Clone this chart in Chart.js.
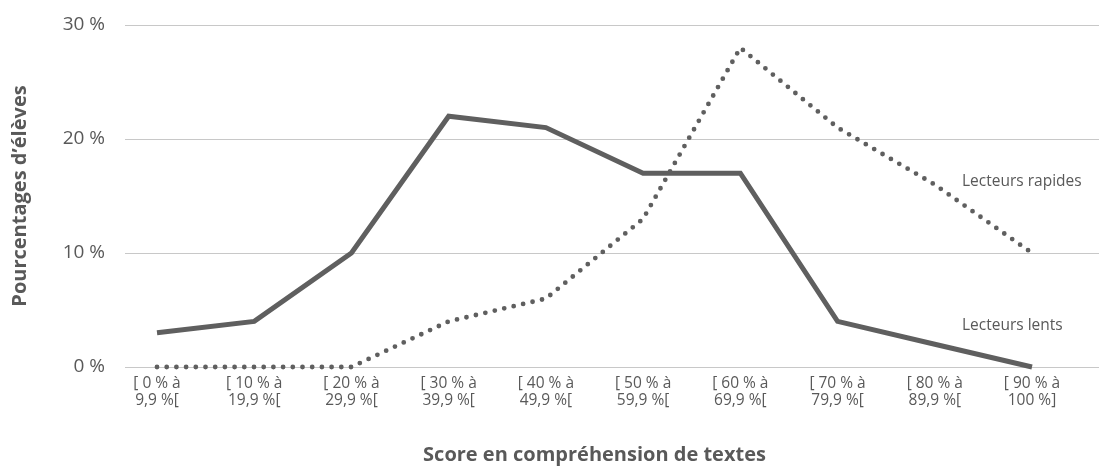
<!DOCTYPE html>
<html>
<head>
<meta charset="utf-8">
<script src="https://cdn.jsdelivr.net/npm/chart.js@4/dist/chart.umd.min.js"></script>
<style>
  html, body { margin: 0; padding: 0; background: #fff; }
  #wrap { width: 1099px; height: 467px; position: relative; }
</style>
</head>
<body>
<div id="wrap"><canvas id="chart"></canvas></div>
<script>
// categories (score bands), two lines each
var categories = [
    ['[ 0 % à', '9,9 %['],
    ['[ 10 % à', '19,9 %['],
    ['[ 20 % à', '29,9 %['],
    ['[ 30 % à', '39,9 %['],
    ['[ 40 % à', '49,9 %['],
    ['[ 50 % à', '59,9 %['],
    ['[ 60 % à', '69,9 %['],
    ['[ 70 % à', '79,9 %['],
    ['[ 80 % à', '89,9 %['],
    ['[ 90 % à', '100 %]']
];

// percentages of pupils
var lents = [3, 4, 10, 22, 21, 17, 17, 4, 2, 0];
var rapides = [0, 0, 0, 4, 6, 13, 28, 21, 16, 10];

// y ticks
var yTicks = [0, 10, 20, 30];

var grey = '#5f5f5f';
var textGrey = '#595959';
var font = "'Open Sans', 'Noto Sans', sans-serif";

// horizontal grid lines, wider than the plotted lines (like the original)
var gridPlugin = {
    id: 'wideGrid',
    beforeDatasetsDraw: function (chart) {
        var ctx = chart.ctx;
        var y = chart.scales.y;
        var area = chart.chartArea;
        ctx.save();
        ctx.strokeStyle = '#c8c8c8';
        ctx.lineWidth = 1;
        yTicks.forEach(function (t) {
            var py = Math.round(y.getPixelForValue(t)) + 0.5;
            ctx.beginPath();
            ctx.moveTo(area.left - 32, py);
            ctx.lineTo(chart.width, py);
            ctx.stroke();
        });
        ctx.restore();
    }
};

// series names written next to the lines
var labelPlugin = {
    id: 'lineLabels',
    afterDatasetsDraw: function (chart) {
        var ctx = chart.ctx;
        var x = chart.scales.x;
        var y = chart.scales.y;
        var px = x.getPixelForValue(9) - 70;
        ctx.save();
        ctx.fillStyle = textGrey;
        ctx.font = '15.5px ' + font;
        ctx.textAlign = 'left';
        ctx.textBaseline = 'middle';
        ctx.fillText('Lecteurs rapides', px, y.getPixelForValue(16.3));
        ctx.fillText('Lecteurs lents', px, y.getPixelForValue(3.6));
        ctx.restore();
    }
};

var ctx = document.getElementById('chart').getContext('2d');
var chart = new Chart(ctx, {
    type: 'line',
    data: {
        labels: categories,
        datasets: [{
            label: 'Lecteurs lents',
            data: lents,
            borderColor: grey,
            borderWidth: 5,
            pointRadius: 0,
            tension: 0,
            clip: false
        }, {
            label: 'Lecteurs rapides',
            data: rapides,
            borderColor: grey,
            borderWidth: 4.8,
            borderDash: [0, 9.7],
            borderCapStyle: 'round',
            pointRadius: 0,
            tension: 0,
            clip: false
        }]
    },
    options: {
        responsive: true,
        maintainAspectRatio: false,
        animation: false,
        layout: { padding: { top: 25, right: 67, left: 8, bottom: 0 } },
        plugins: {
            legend: { display: false },
            tooltip: { enabled: false }
        },
        scales: {
            x: {
                offset: false,
                grid: { display: false, drawTicks: false },
                border: { display: false },
                afterFit: function (axis) {
                    axis.paddingLeft = 0;
                    axis.paddingRight = 0;
                    axis.height = 100;
                },
                ticks: {
                    color: textGrey,
                    font: { family: font, size: 15.5, lineHeight: 1.1 },
                    maxRotation: 0,
                    minRotation: 0,
                    autoSkip: false,
                    padding: 8
                },
                title: {
                    display: true,
                    text: 'Score en compréhension de textes',
                    color: textGrey,
                    font: { family: font, size: 20, weight: 'bold' },
                    padding: { top: 14, bottom: 0 }
                }
            },
            y: {
                min: 0,
                max: 30,
                grid: { display: false, drawTicks: false },
                border: { display: false },
                afterBuildTicks: function (axis) {
                    axis.ticks = yTicks.map(function (v) { return { value: v }; });
                },
                afterFit: function (axis) {
                    axis.paddingTop = 0;
                    axis.paddingBottom = 0;
                    axis.width = 149;
                },
                ticks: {
                    color: textGrey,
                    font: { family: font, size: 19 },
                    padding: 52,
                    callback: function (v) { return v + ' %'; }
                },
                title: {
                    display: true,
                    text: 'Pourcentages d’élèves',
                    color: textGrey,
                    font: { family: font, size: 20, weight: 'bold' },
                    padding: { top: 0, bottom: 0 }
                }
            }
        }
    },
    plugins: [gridPlugin, labelPlugin]
});
</script>
</body>
</html>
